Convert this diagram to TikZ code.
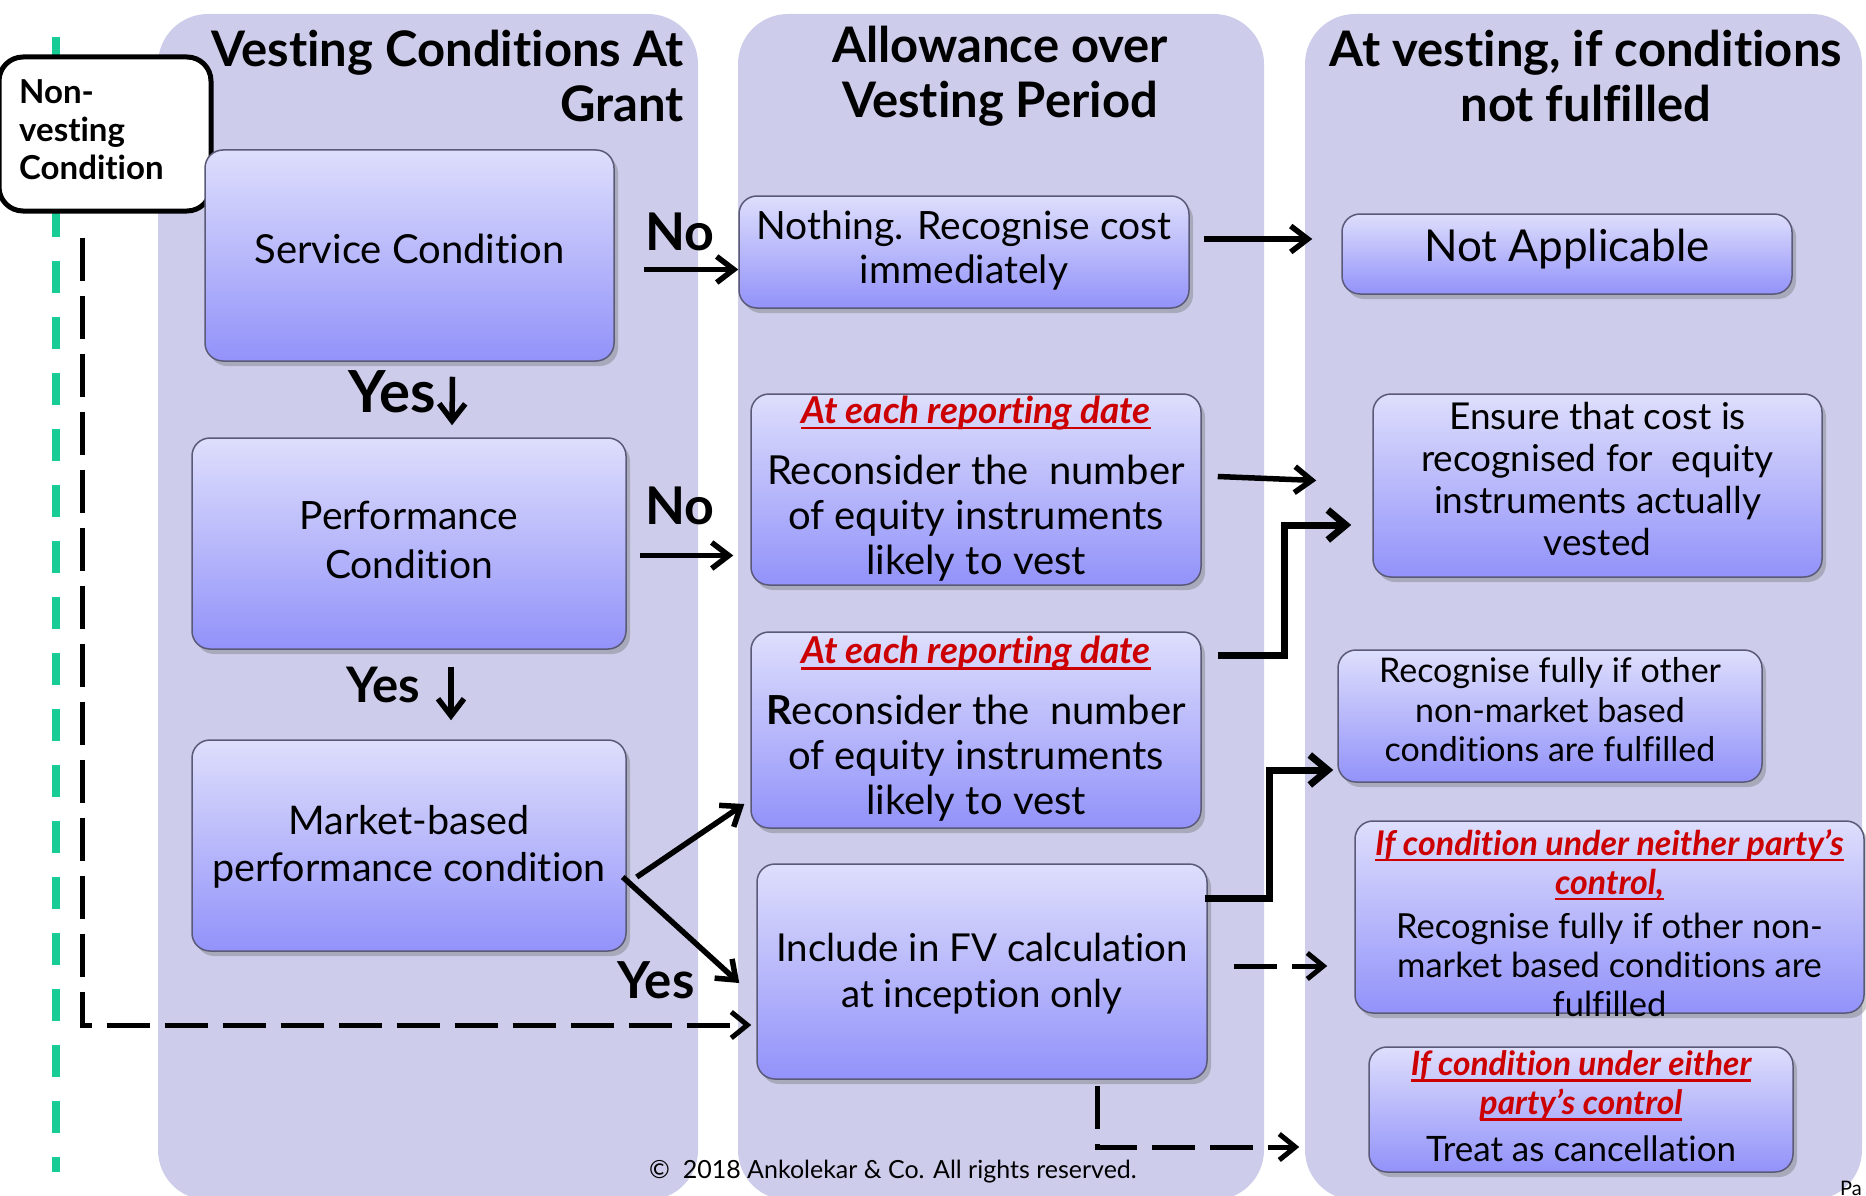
\documentclass[tikz,border=0pt]{standalone}
\usepackage{fontspec}
\setmainfont{Lato}[Ligatures=NoCommon]
\usetikzlibrary{arrows.meta,shadows,calc}
\definecolor{panelc}{RGB}{205,205,235}
\definecolor{boxtop}{RGB}{222,222,252}
\definecolor{boxbot}{RGB}{146,146,250}
\definecolor{boxline}{RGB}{90,90,120}
\definecolor{redt}{RGB}{204,0,0}
\definecolor{greenc}{RGB}{24,204,150}
\newcommand{\fsz}[2]{\fontsize{#1}{#2}\selectfont}
\newsavebox{\ulbox}
\newcommand{\rt}[1]{{\color{redt}\bfseries\itshape\sbox{\ulbox}{#1}\rlap{\rule[-6pt]{\wd\ulbox}{2.4pt}}\usebox{\ulbox}}}
\begin{document}
\begin{tikzpicture}[x=1pt,y=-1pt,
  panel/.style={fill=panelc, rounded corners=50pt, inner sep=0pt},
  box/.style={draw=boxline, line width=1.5pt, rounded corners=18pt, top color=boxtop, bottom color=boxbot,
    drop shadow={shadow xshift=4pt, shadow yshift=-5pt, opacity=0.35, fill=black!60},
    inner sep=0pt},
  txt/.style={inner sep=0pt, align=center},
  hdr/.style={font=\fsz{49}{55}\bfseries, inner sep=0pt},
  lbl/.style={font=\fsz{50}{55}\bfseries, inner sep=0pt},
  arr/.style={line width=5.5pt, -{Straight Barb[length=17pt,width=26pt]}},
  thkarr/.style={line width=7pt, -{Straight Barb[length=18pt,width=30pt]}},
  dasharr/.style={line width=5pt, dash pattern=on 43pt off 15pt, -{Straight Barb[length=16pt,width=26pt]}}
]
\useasboundingbox (0,0) rectangle (1866,1196);
% panels
\node[panel, minimum width=540, minimum height=1186] (p1) at (428,607) {};
\node[panel, minimum width=526, minimum height=1186] (p2) at (1001,607) {};
\node[panel, minimum width=557, minimum height=1186] (p3) at (1583.5,607) {};
% headers
\node[hdr, align=right, anchor=east] (hd1) at (684,76) {Vesting Conditions At\\Grant};
\node[hdr, align=center] (hd2) at (1000,76) {Allowance over\\Vesting Period};
\node[hdr, align=center] (hd3) at (1586,76) {At vesting, if conditions\\not fulfilled};
% green dashed line
\coordinate (g1) at (56,37);
\coordinate (g2) at (56,1172);
\draw[greenc, line width=8pt, dash pattern=on 32pt off 24pt] (g1) -- (g2);
% non-vesting box
\node[draw=black, fill=white, line width=5pt, rounded corners=24pt, minimum width=212, minimum height=154,
  inner sep=0pt] (nv) at (105,134) {};
\node[txt, align=left, anchor=west, font=\fsz{33}{38}\bfseries] (nvt) at (19,130) {Non-\\vesting\\Condition};
% boxes
\node[box, minimum width=409, minimum height=211] (svc) at (409.5,255.5) {};
\node[box, minimum width=434, minimum height=211] (perf) at (409,543.5) {};
\node[box, minimum width=434, minimum height=211] (mkt) at (409,845.5) {};
\node[box, minimum width=450, minimum height=112] (nothing) at (964,252) {};
\node[box, minimum width=450, minimum height=80] (notapp) at (1567,254) {};
\node[box, minimum width=450, minimum height=191] (rep1) at (976,489.5) {};
\node[box, minimum width=450, minimum height=196] (rep2) at (976,730) {};
\node[box, minimum width=450, minimum height=215] (fv) at (982,971.5) {};
\node[box, minimum width=449, minimum height=183] (ensure) at (1597.5,485.5) {};
\node[box, minimum width=424, minimum height=132] (recog) at (1550,716) {};
\node[box, minimum width=509, minimum height=192] (neither) at (1609.5,917) {};
\node[box, minimum width=424, minimum height=125] (either) at (1581,1109.5) {};
% box texts
\node[txt, font=\fsz{40}{45}] (svct) at ($(svc)+(0,-7)$) {Service Condition};
\node[txt, font=\fsz{39}{49}] (perft) at ($(perf)+(0,-4)$) {Performance\\Condition};
\node[txt, font=\fsz{39.5}{47}] (mktt) at ($(mkt)+(0,1)$) {Market-based\\performance condition};
\node[txt, font=\fsz{39}{44}] (nothingt) at ($(nothing)+(0,-2)$) {Nothing. Recognise cost\\immediately};
\node[txt, font=\fsz{44}{52}] (notappt) at ($(notapp)+(0,-5)$) {Not Applicable};
\node[txt, font=\fsz{40}{45}] (rep1t) at ($(rep1)+(0,-1)$)
  {{\fsz{37}{38}\rt{At each reporting date}}\\[16pt]Reconsider the\ \ number\\of equity instruments\\likely to vest};
\node[txt, font=\fsz{40}{45}] (rep2t) at ($(rep2)+(0,-1)$)
  {{\fsz{37}{38}\rt{At each reporting date}}\\[16pt]\textbf{R}econsider the\ \ number\\of equity instruments\\likely to vest};
\node[txt, font=\fsz{38.5}{46}] (fvt) at ($(fv)+(0,2)$) {Include in FV calculation\\at inception only};
\node[txt, font=\fsz{37}{42}] (ensuret) at ($(ensure)+(0,-6)$)
  {Ensure that cost is\\recognised for\ \ equity\\instruments actually\\vested};
\node[txt, font=\fsz{34}{39.5}] (recogt) at ($(recog)+(0,-6)$)
  {Recognise fully if other\\non-market based\\conditions are fulfilled};
\node[txt, font=\fsz{34.5}{39}] (neithert) at ($(neither)+(0,6)$)
  {{\fsz{34}{38}\rt{If condition under neither party’s}}\\{\fsz{34}{38}\rt{control,}}\\[5pt]Recognise fully if other non-\\market based conditions are\\fulfilled};
\node[txt, font=\fsz{35}{39}] (eithert) at ($(either)+(0,-3)$)
  {{\fsz{33.5}{38}\rt{If condition under either}}\\{\fsz{33.5}{38}\rt{party’s control}}\\[8pt]Treat as cancellation};
% labels
\node[lbl, font=\fsz{52}{55}\bfseries] (no1) at (680,232) {No};
\node[lbl, font=\fsz{52}{55}\bfseries] (no2) at (680,506) {No};
\node[lbl, font=\fsz{58}{60}\bfseries] (yes1) at (392,392) {Yes};
\node[lbl, font=\fsz{49}{55}\bfseries] (yes2) at (383,685) {Yes};
\node[lbl, font=\fsz{51}{55}\bfseries] (yes3) at (656,980) {Yes};
% arrows
\coordinate (a1) at ($(svc.east)+(29,14)$);
\draw[arr] (a1) -- (a1 -| nothing.west);
\coordinate (b1) at ($(nothing.east)+(14,-13)$);
\draw[arr] (b1) -- ($(b1 -| notapp.west)+(-29,0)$);
\draw[arr] ($(svc.south)+(43,15)$) -- ($(perf.north)+(43,-12)$);
\coordinate (d1) at ($(perf.east)+(13,12)$);
\draw[arr] (d1) -- ($(d1 -| rep1.west)+(-17,0)$);
\draw[arr] ($(perf.south)+(42,17)$) -- ($(mkt.north)+(42,-19)$);
\draw[arr] ($(rep1.east)+(16,-13)$) -- ($(ensure.west)+(-56,-5)$);
\coordinate (g3) at ($(ensure.west)+(-21,39.5)$);
\draw[thkarr] ($(rep2.east)+(16,-75)$) -| ($(g3)+(-67,0)$) -- (g3);
\coordinate (h3) at ($(recog.west)+(-4,54)$);
\draw[thkarr] ($(fv.east)+(-3,-73.5)$) -| ($(h3)+(-64,0)$) -- (h3);
\draw[arr] ($(mkt.east)+(10,31.5)$) -- ($(rep2.west)+(-6,74)$);
\draw[arr] ($(mkt.east)+(-4,31.5)$) -- ($(fv.west)+(-17,11.5)$);
\coordinate (k1) at ($(fv.east)+(26,-5.5)$);
\draw[dasharr] (k1) -- ($(k1 -| neither.west)+(-27,0)$);
\draw[dasharr] ($(fv.south)+(115,6)$) |- ($(either.west)+(-69,37.5)$);
\draw[dasharr] ($(nv.south)+(-23,24)$) |- ($(fv.west)+(-5,53.5)$);
% footer
\node[font=\fsz{25}{28}, inner sep=0pt] (copy) at (893,1172) {©\ \ 2018 Ankolekar \& Co. All rights reserved.};
\node[font=\fsz{20}{24}, inner sep=0pt, anchor=west] (pg) at (1840,1188) {Pa};
\end{tikzpicture}
\end{document}
